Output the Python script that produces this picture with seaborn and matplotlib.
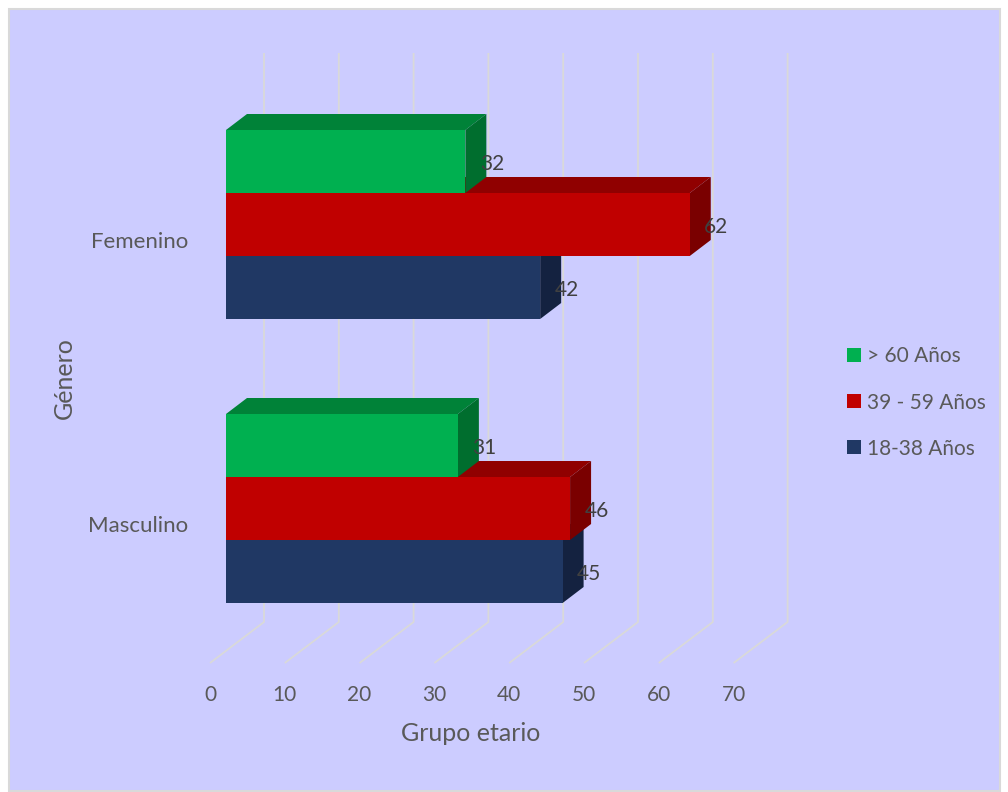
import numpy as np
import pandas as pd
import matplotlib
matplotlib.use("Agg")
import matplotlib.pyplot as plt
import matplotlib.transforms as mtransforms
from matplotlib.patches import Polygon, Rectangle
import seaborn as sns

# ---------------- data ----------------
generos = ["Femenino", "Masculino"]
grupos = ["> 60 Años", "39 - 59 Años", "18-38 Años"]
val_mayor_60 = [32, 31]
val_39_59 = [62, 46]
val_18_38 = [42, 45]
x_ticks = [0, 10, 20, 30, 40, 50, 60, 70]

front_colors = ["#00B050", "#C00000", "#203864"]
top_colors = ["#008238", "#900000", "#172A4C"]
side_colors = ["#006E2E", "#7A0000", "#142240"]

rows = []
for g, vals in zip(grupos, [val_mayor_60, val_39_59, val_18_38]):
    for gen, v in zip(generos, vals):
        rows.append({"Género": gen, "Grupo": g, "Valor": v})
df = pd.DataFrame(rows)

# ---------------- style ----------------
sns.set_theme(style="white")
plt.rcParams["font.family"] = ["Lato", "DejaVu Sans"]
text_color = "#595959"
fs_tick = 15
fs_cat = 16
fs_leg = 15
fs_lbl = 15
fs_title = 18

W, H, DPI = 1008, 792, 100
fig = plt.figure(figsize=(W / DPI, H / DPI), dpi=DPI)
fig.patch.set_facecolor("white")
fig.patches.append(Rectangle((9 / W, 1 - 791 / H), (1000 - 9) / W, (791 - 9) / H,
                             transform=fig.transFigure, facecolor="#CCCCFF",
                             edgecolor="#D9D9D9", linewidth=1.5, zorder=-10))

ax_left, ax_right, ax_top, ax_bottom = 226, 749.6, 82.5, 650.5
ax = fig.add_axes([ax_left / W, 1 - ax_bottom / H, (ax_right - ax_left) / W, (ax_bottom - ax_top) / H])
ax.set_facecolor("none")

sns.barplot(data=df, x="Valor", y="Género", hue="Grupo", hue_order=grupos,
            order=generos, palette=front_colors, orient="h", width=0.6655,
            saturation=1, linewidth=0, ax=ax)
ax.set_xlim(0, 70)
ax.set_ylim(1.5, -0.5)
for s in ax.spines.values():
    s.set_visible(False)

px_x = (ax_right - ax_left) / 70.0
px_y = (ax_bottom - ax_top) / 2.0

# 3D faces of the bars
ddx = 21 / px_x
ddy = 16 / px_y
for ci, cont in enumerate(ax.containers):
    for p in cont.patches:
        x0, w, y0, h = p.get_x(), p.get_width(), p.get_y(), p.get_height()
        z = 3 + (2 - (y0 + h / 2))
        p.set_zorder(z)
        p.set_edgecolor("none")
        top = Polygon([(x0, y0), (x0 + w, y0), (x0 + w + ddx, y0 - ddy), (x0 + ddx, y0 - ddy)],
                      closed=True, facecolor=top_colors[ci], edgecolor="none",
                      zorder=z - 0.001, clip_on=False)
        side = Polygon([(x0 + w, y0), (x0 + w, y0 + h), (x0 + w + ddx, y0 + h - ddy), (x0 + w + ddx, y0 - ddy)],
                       closed=True, facecolor=side_colors[ci], edgecolor="none",
                       zorder=z - 0.001, clip_on=False)
        ax.add_patch(top)
        ax.add_patch(side)
    anns = ax.bar_label(cont, padding=10.5, color="#404040", fontsize=fs_lbl, zorder=20)
    for a in anns:
        a.xyann = (10.5, -2)

# gridlines: floor diagonals + back wall verticals
back_dx = 38 / px_x
front_dx = -16 / px_x
y_wall_top = -0.5 - (ax_top - 53) / px_y
y_wall_bot = -0.5 + (622 - ax_top) / px_y
y_floor = -0.5 + (663 - ax_top) / px_y
for v in x_ticks:
    ax.plot([v + front_dx, v + back_dx, v + back_dx], [y_floor, y_wall_bot, y_wall_top],
            color="#D9D9D9", lw=1.3, clip_on=False, zorder=1, solid_capstyle="butt")

# ticks
ax.set_xticks(x_ticks)
ax.tick_params(axis="x", length=0, pad=24.5, labelsize=fs_tick, labelcolor=text_color)
ax.tick_params(axis="y", length=0, pad=27, labelsize=fs_cat, labelcolor=text_color)
xoff = mtransforms.ScaledTranslation(-16 / DPI, 0, fig.dpi_scale_trans)
for lbl in ax.get_xticklabels():
    lbl.set_transform(lbl.get_transform() + xoff)
yoff = mtransforms.ScaledTranslation(0, -15 / DPI, fig.dpi_scale_trans)
for lbl in ax.get_yticklabels():
    lbl.set_transform(lbl.get_transform() + yoff)

ax.set_xlabel("Grupo etario", fontsize=fs_title, color=text_color)
ax.set_ylabel("Género", fontsize=fs_title, color=text_color)
ax.xaxis.set_label_coords((471 - ax_left) / (ax_right - ax_left), (ax_bottom - 722) / (ax_bottom - ax_top))
ax.yaxis.set_label_coords((76 - ax_left) / (ax_right - ax_left), (ax_bottom - 378) / (ax_bottom - ax_top))

handles, labels = ax.get_legend_handles_labels()
leg = ax.legend(handles, labels, loc="center left", bbox_to_anchor=(847 / W, 1 - 402.5 / H),
                bbox_transform=fig.transFigure, frameon=False, fontsize=fs_leg,
                handlelength=0.67, handleheight=0.67, handletextpad=0.3,
                labelspacing=1.25, borderpad=0, borderaxespad=0)
for t in leg.get_texts():
    t.set_color(text_color)

fig.savefig("out.png", dpi=DPI, facecolor=fig.get_facecolor())
